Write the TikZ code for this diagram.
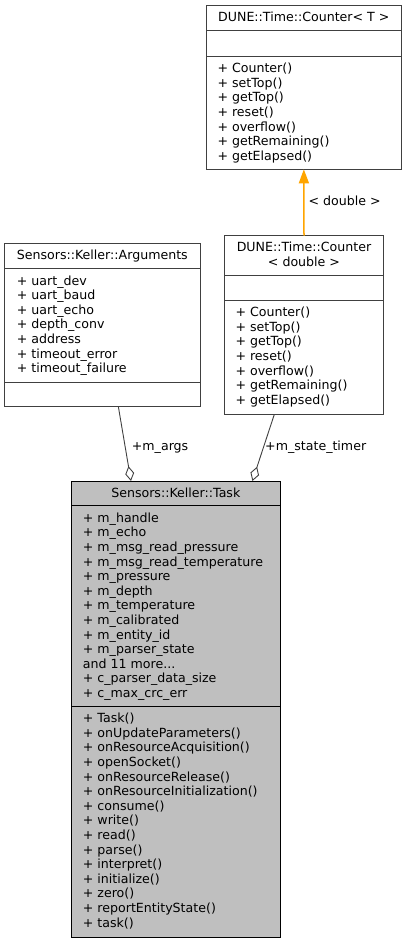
\documentclass[tikz,border=0pt]{standalone}
\usepackage{fontspec}
\setmainfont{DejaVu Sans}
\usetikzlibrary{arrows.meta,calc}
\definecolor{edgegray}{HTML}{404040}
\definecolor{taskgray}{HTML}{BFBFBF}
\definecolor{inhorange}{HTML}{FFA500}
\newcommand\mytdots{...}
\begin{document}
\begin{tikzpicture}[x=1pt,y=-1pt,
  classbox/.style={draw=edgegray, line width=1pt, fill=white, inner sep=0pt, outer sep=0pt, anchor=north west},
  mainbox/.style={draw=black, line width=1pt, fill=taskgray, inner sep=0pt, outer sep=0pt, anchor=north west},
  txt/.style={anchor=base west, inner sep=0pt, font=\fontsize{12.6}{14.6}\selectfont},
  ttl/.style={anchor=base, inner sep=0pt, font=\fontsize{12.6}{14.6}\selectfont},
  sepline/.style={draw=edgegray, line width=1pt},
  mainsep/.style={draw=black, line width=1pt},
  aggr/.style={draw=edgegray, line width=0.9pt, -{Diamond[open, length=15pt, width=9pt, line width=0.9pt]}},
  inh/.style={draw=inhorange, line width=1.5pt, -{Triangle[length=14pt, width=10pt]}},
]
\useasboundingbox (0,0) rectangle (407,944);

% DUNE::Time::Counter< T >
\node[classbox, minimum width=194.3pt, minimum height=164pt] (ct) at (206.7,5.3) {};
\node[ttl] (ct-title) at (303.8,21.7) {DUNE::Time::Counter< T >};
\draw[sepline] (ct.west |- 0,31) -- (ct.east |- 0,31);
\draw[sepline] (ct.west |- 0,57) -- (ct.east |- 0,57);
\foreach \t [count=\i] in {+ Counter(),+ setTop(),+ getTop(),+ reset(),+ overflow(),+ getRemaining(),+ getElapsed()}
  \node[txt, name=ct-m\i] at (217.3,{72.7+14.6*(\i-1)}) {\t};

% DUNE::Time::Counter< double >
\node[classbox, minimum width=158.6pt, minimum height=178.6pt] (cd) at (224.7,235.7) {};
\node[ttl] (cd-title1) at (304,251.7) {DUNE::Time::Counter};
\node[ttl] (cd-title2) at (304,266.3) {< double >};
\draw[sepline] (cd.west |- 0,275.7) -- (cd.east |- 0,275.7);
\draw[sepline] (cd.west |- 0,300.7) -- (cd.east |- 0,300.7);
\foreach \t [count=\i] in {+ Counter(),+ setTop(),+ getTop(),+ reset(),+ overflow(),+ getRemaining(),+ getElapsed()}
  \node[txt, name=cd-m\i] at (235.3,{316.7+14.6*(\i-1)}) {\t};

% Sensors::Keller::Arguments
\node[classbox, minimum width=195.3pt, minimum height=163.4pt] (args) at (4.7,243.3) {};
\node[ttl] (args-title) at (102.3,259) {Sensors::Keller::Arguments};
\draw[sepline] (args.west |- 0,268.3) -- (args.east |- 0,268.3);
\draw[sepline] (args.west |- 0,382.3) -- (args.east |- 0,382.3);
\foreach \t [count=\i] in {+ uart\_dev,+ uart\_baud,+ uart\_echo,+ depth\_conv,+ address,+ timeout\_error,+ timeout\_failure}
  \node[txt, name=args-a\i] at (16.7,{285+14.6*(\i-1)}) {\t};

% Sensors::Keller::Task
\node[mainbox, minimum width=209.7pt, minimum height=456.7pt] (task) at (71,481) {};
\node[ttl] (task-title) at (175.8,497.3) {Sensors::Keller::Task};
\draw[mainsep] (task.west |- 0,505) -- (task.east |- 0,505);
\draw[mainsep] (task.west |- 0,706.7) -- (task.east |- 0,706.7);
\foreach \t [count=\i] in {+ m\_handle,+ m\_echo,+ m\_msg\_read\_pressure,+ m\_msg\_read\_temperature,+ m\_pressure,+ m\_depth,+ m\_temperature,+ m\_calibrated,+ m\_entity\_id,+ m\_parser\_state,and 11 more\mytdots,+ c\_parser\_data\_size,+ c\_max\_crc\_err}
  \node[txt, name=task-a\i] at (82.7,{522.3+14.6*(\i-1)}) {\t};
\foreach \t [count=\i] in {+ Task(),+ onUpdateParameters(),+ onResourceAcquisition(),+ openSocket(),+ onResourceRelease(),+ onResourceInitialization(),+ consume(),+ write(),+ read(),+ parse(),+ interpret(),+ initialize(),+ zero(),+ reportEntityState(),+ task()}
  \node[txt, name=task-m\i] at (82.7,{722.7+14.6*(\i-1)}) {\t};

% connectors
\draw[inh] (cd.north) -- (ct.south);
\node[txt] (lbl-double) at (308.3,205) {< double >};

\draw[aggr] ($(args.south west)!0.582!(args.south east)$) -- ($(task.north west)!0.286!(task.north east)$);
\node[txt] (lbl-args) at (131.7,450.7) {+m\_args};

\draw[aggr] ($(cd.south west)!0.313!(cd.south east)$) -- ($(task.north west)!0.865!(task.north east)$);
\node[txt] (lbl-timer) at (265,450.7) {+m\_state\_timer};
\end{tikzpicture}
\end{document}
